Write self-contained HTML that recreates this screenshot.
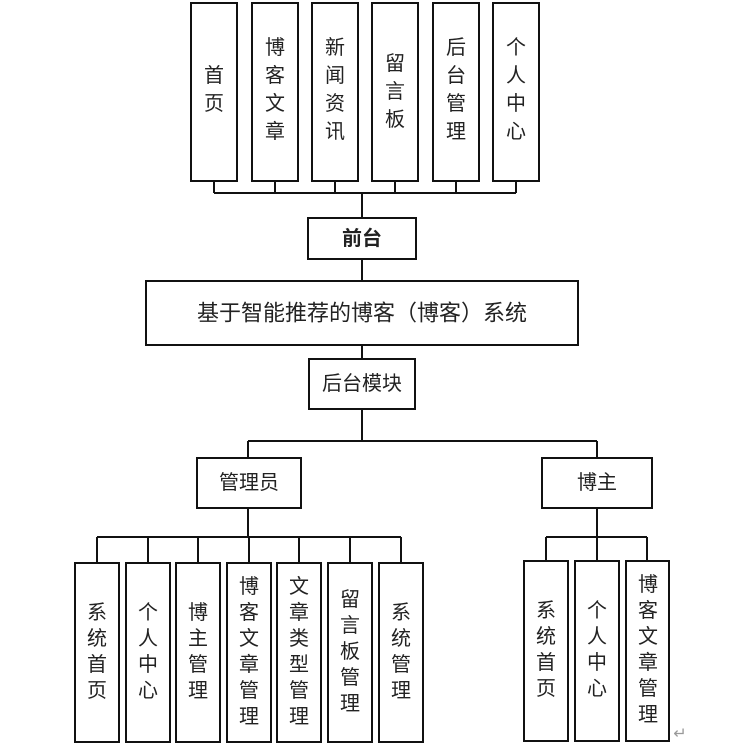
<!DOCTYPE html>
<html><head><meta charset="utf-8"><style>
html,body{margin:0;padding:0;background:#fff;}
svg{display:block;}
text{font-family:"Liberation Sans","Noto Sans CJK SC","WenQuanYi Zen Hei",sans-serif;fill:#222;dominant-baseline:central;text-anchor:middle;}
</style></head><body>
<svg width="737" height="755" viewBox="0 0 737 755" xmlns="http://www.w3.org/2000/svg">
<g fill="none" stroke="#111" stroke-width="2">
<!-- top boxes -->
<rect x="191" y="3" width="46" height="178"/>
<rect x="252" y="3" width="46" height="178"/>
<rect x="312" y="3" width="46" height="178"/>
<rect x="372" y="3" width="46" height="178"/>
<rect x="433" y="3" width="46" height="178"/>
<rect x="493" y="3" width="46" height="178"/>
<path d="M214 181V193M275 181V193M335 181V193M395 181V193M456 181V193M516 181V193M214 193H516M362 193V218"/>
<rect x="308" y="218" width="108" height="41"/>
<path d="M362 259V281"/>
<rect x="146" y="281" width="432" height="64"/>
<path d="M362 345V359"/>
<rect x="309" y="359" width="106" height="50"/>
<path d="M362 409V441M248 441H597M248 441V458M597 441V458"/>
<rect x="197" y="458" width="104" height="50"/>
<rect x="542" y="458" width="110" height="50"/>
<path d="M248 508V537M97 537H401M97 537V563M148 537V563M198 537V563M249 537V563M299 537V563M350 537V563M401 537V563"/>
<rect x="75" y="563" width="44" height="179"/>
<rect x="126" y="563" width="44" height="179"/>
<rect x="176" y="563" width="44" height="179"/>
<rect x="227" y="563" width="44" height="179"/>
<rect x="277" y="563" width="44" height="179"/>
<rect x="328" y="563" width="44" height="179"/>
<rect x="379" y="563" width="44" height="179"/>
<path d="M597 508V537M546 537H647M546 537V561M597 537V561M647 537V561"/>
<rect x="524" y="561" width="44" height="180"/>
<rect x="575" y="561" width="44" height="180"/>
<rect x="626" y="561" width="43" height="180"/>
</g>
<g font-size="20">
<!-- top -->
<text x="214" y="76">首</text><text x="214" y="104">页</text>
<text x="275" y="48">博</text><text x="275" y="76">客</text><text x="275" y="104">文</text><text x="275" y="132">章</text>
<text x="335" y="48">新</text><text x="335" y="76">闻</text><text x="335" y="104">资</text><text x="335" y="132">讯</text>
<text x="395" y="64">留</text><text x="395" y="92">言</text><text x="395" y="120">板</text>
<text x="456" y="48">后</text><text x="456" y="76">台</text><text x="456" y="104">管</text><text x="456" y="132">理</text>
<text x="516" y="48">个</text><text x="516" y="76">人</text><text x="516" y="104">中</text><text x="516" y="132">心</text>
<text x="362" y="239" style="font-weight:bold">前台</text>
<text x="362" y="313" font-size="22">基于智能推荐的博客（博客）系统</text>
<text x="362" y="384">后台模块</text>
<text x="249" y="483">管理员</text>
<text x="597" y="483">博主</text>
<!-- admin children -->
<text x="97" y="613">系</text><text x="97" y="639">统</text><text x="97" y="665">首</text><text x="97" y="691">页</text>
<text x="148" y="613">个</text><text x="148" y="639">人</text><text x="148" y="665">中</text><text x="148" y="691">心</text>
<text x="198" y="613">博</text><text x="198" y="639">主</text><text x="198" y="665">管</text><text x="198" y="691">理</text>
<text x="249" y="587">博</text><text x="249" y="613">客</text><text x="249" y="639">文</text><text x="249" y="665">章</text><text x="249" y="691">管</text><text x="249" y="717">理</text>
<text x="299" y="587">文</text><text x="299" y="613">章</text><text x="299" y="639">类</text><text x="299" y="665">型</text><text x="299" y="691">管</text><text x="299" y="717">理</text>
<text x="350" y="600">留</text><text x="350" y="626">言</text><text x="350" y="652">板</text><text x="350" y="678">管</text><text x="350" y="704">理</text>
<text x="401" y="613">系</text><text x="401" y="639">统</text><text x="401" y="665">管</text><text x="401" y="691">理</text>
<!-- blogger children -->
<text x="546" y="611">系</text><text x="546" y="637">统</text><text x="546" y="663">首</text><text x="546" y="689">页</text>
<text x="597" y="611">个</text><text x="597" y="637">人</text><text x="597" y="663">中</text><text x="597" y="689">心</text>
<text x="648" y="585">博</text><text x="648" y="611">客</text><text x="648" y="637">文</text><text x="648" y="663">章</text><text x="648" y="689">管</text><text x="648" y="715">理</text>
</g>
<text x="680" y="734" font-size="16" style="fill:#999">↵</text>
</svg>
</body></html>
